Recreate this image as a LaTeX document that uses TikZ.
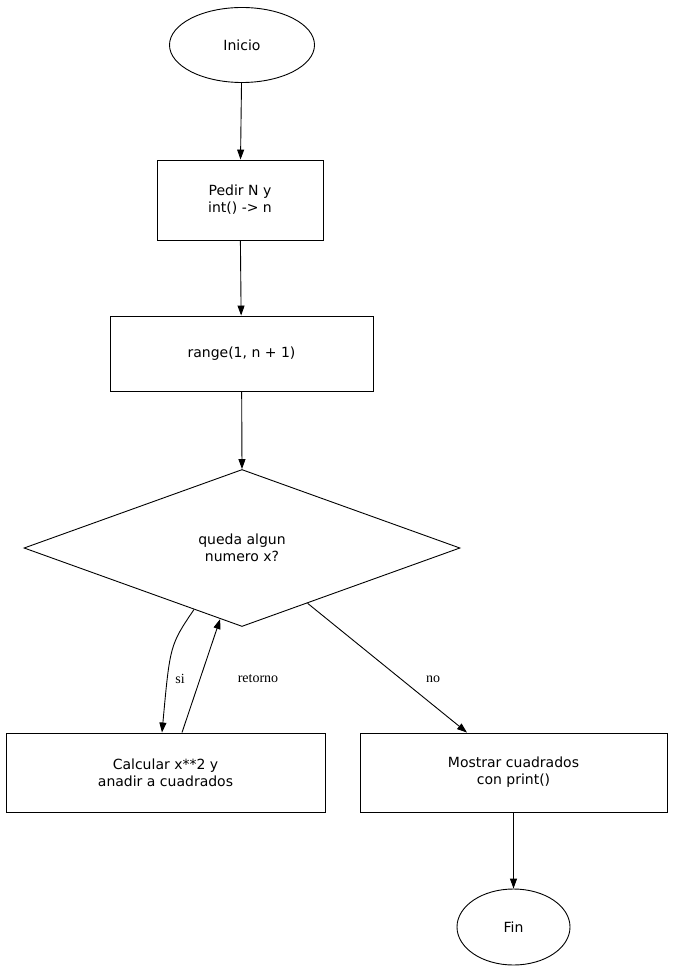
\documentclass[tikz,border=0pt]{standalone}
\usepackage{fontspec}
\setmainfont{DejaVu Sans}
\newfontfamily\lblfont{Liberation Serif}
\usetikzlibrary{arrows.meta, shapes.geometric, positioning, calc}

\tikzset{
  flow/.style={draw, line width=0.9pt, align=center, font=\fontsize{14}{17}\selectfont},
  term/.style={flow, ellipse, inner sep=0pt},
  proc/.style={flow, rectangle, inner sep=0pt},
  cond/.style={flow, diamond, inner sep=0pt, shape aspect=2.78},
  link/.style={-{Triangle[length=10pt,width=7pt]}, line width=0.9pt},
  lbl/.style={font=\lblfont\fontsize{14}{17}\selectfont, inner sep=1pt}
}

\begin{document}
\begin{tikzpicture}[x=1pt, y=-1pt]
  \useasboundingbox (0,0) rectangle (675,973);

  % nodes
  \node[term, minimum width=145pt, minimum height=75pt] (inicio) at (242,45) {Inicio};
  \node[proc, minimum width=166pt, minimum height=80pt] (pedir) at (240,200) {Pedir N y\\int() -> n};
  \node[proc, minimum width=263pt, minimum height=75pt] (rango) at (241.5,353.5) {range(1, n + 1)};
  \node[cond, minimum width=436pt, minimum height=157pt] (queda) at (242,548) {queda algun\\numero x?};
  \node[proc, minimum width=319pt, minimum height=79pt] (calc) at (165.5,772.5) {Calcular x**2 y\\anadir a cuadrados};
  \node[proc, minimum width=307pt, minimum height=79pt] (mostrar) at (513.5,772.5) {Mostrar cuadrados\\con print()};
  \node[term, minimum width=113pt, minimum height=76pt] (fin) at (513.5,927) {Fin};

  % points on the diamond
  \coordinate (siA) at ($(queda.south)!0.22!(queda.west)$);
  \coordinate (retB) at ($(queda.south)!0.1!(queda.west)$);
  \coordinate (noA) at ($(queda.south)!0.3!(queda.east)$);

  % connectors
  \draw[link] (inicio) -- (pedir);
  \draw[link] (pedir) -- (rango);
  \draw[link] (rango) -- (queda.north);
  \draw[link] (siA) .. controls (170,645) .. ([xshift=-3.5pt]calc.north);
  \draw[link] ([xshift=16.5pt]calc.north) -- (retB);
  \draw[link] (noA) -- ([xshift=-46.5pt]mostrar.north);
  \draw[link] (mostrar) -- (fin);

  % labels
  \node[lbl] (lsi) at (180,679) {si};
  \node[lbl] (lret) at (258,679) {retorno};
  \node[lbl] (lno) at (433,679) {no};
\end{tikzpicture}
\end{document}
